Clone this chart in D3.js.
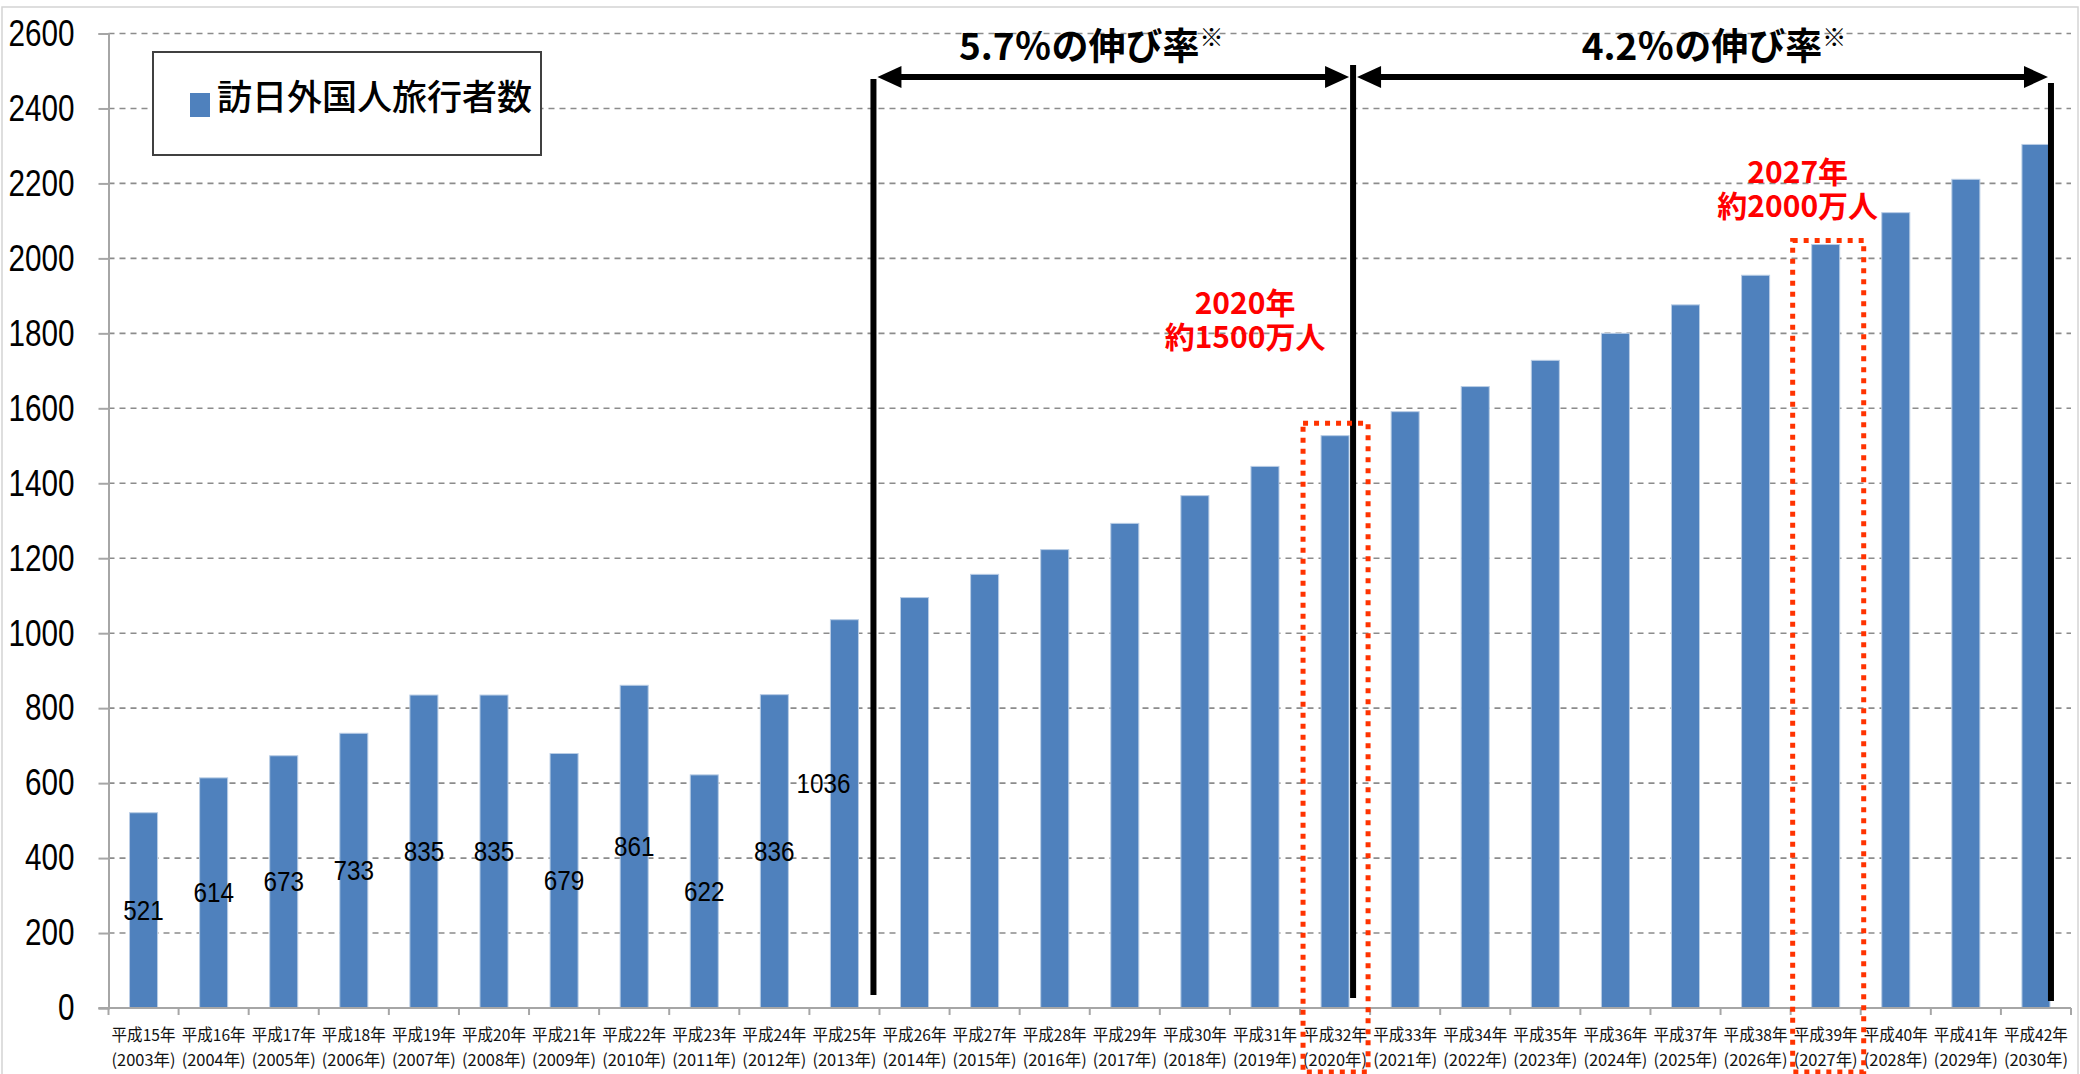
<!DOCTYPE html>
<html lang="ja">
<head>
<meta charset="utf-8">
<title>訪日外国人旅行者数</title>
<script src="https://cdn.jsdelivr.net/npm/d3@7"></script>
<style>
  html, body { margin: 0; padding: 0; background: #ffffff; }
  svg { display: block; }
  .num { font-family: "Liberation Sans", Arial, sans-serif; }
  .jp { font-family: "Noto Sans CJK JP", "Noto Sans", sans-serif; }
</style>
</head>
<body>
<svg id="chart" width="2080" height="1074"></svg>
<script>
// Fiscal-era and western year labels for each bar
const eraLabels = [
  "平成15年", "平成16年", "平成17年", "平成18年", "平成19年", "平成20年", "平成21年",
  "平成22年", "平成23年", "平成24年", "平成25年", "平成26年", "平成27年", "平成28年",
  "平成29年", "平成30年", "平成31年", "平成32年", "平成33年", "平成34年", "平成35年",
  "平成36年", "平成37年", "平成38年", "平成39年", "平成40年", "平成41年", "平成42年"
];
const years = [
  "2003", "2004", "2005", "2006", "2007", "2008", "2009", "2010", "2011", "2012",
  "2013", "2014", "2015", "2016", "2017", "2018", "2019", "2020", "2021", "2022",
  "2023", "2024", "2025", "2026", "2027", "2028", "2029", "2030"
];
// Visitors (10,000 persons): actual 2003-2013, projected 2014-2030
const visitors = [
  521, 614, 673, 733, 835, 835, 679, 861, 622, 836,
  1036, 1095, 1157, 1223, 1293, 1367, 1445, 1527, 1591, 1658,
  1728, 1800, 1876, 1955, 2037, 2122, 2211, 2304
];
// Years whose bars carry a value label
const labelledYears = ["2003", "2004", "2005", "2006", "2007", "2008", "2009", "2010", "2011", "2012", "2013"];
const yTicks = [0, 200, 400, 600, 800, 1000, 1200, 1400, 1600, 1800, 2000, 2200, 2400, 2600];
const legendLabel = "訪日外国人旅行者数";
const growthLabels = ["5.7％の伸び率", "4.2％の伸び率"];
const callouts = [
  { year: "2020", lines: ["2020年", "約1500万人"] },
  { year: "2027", lines: ["2027年", "約2000万人"] }
];

const svg = d3.select("#chart");
const W = 2080, H = 1074;
const plot = { left: 108.5, right: 2071, top: 33.5, bottom: 1008 };

const x = d3.scaleBand()
  .domain(years)
  .range([plot.left, plot.right])
  .paddingInner(0.6)
  .paddingOuter(0.3);
const y = d3.scaleLinear().domain([0, 2600]).range([plot.bottom, plot.top]);
const bw = x.bandwidth();
const step = x.step();

// Outer frame
svg.append("rect")
  .attr("x", 2).attr("y", 7).attr("width", W - 4).attr("height", H + 20)
  .attr("fill", "none").attr("stroke", "#d4d4d4").attr("stroke-width", 1.5);

// Horizontal gridlines
svg.append("g")
  .selectAll("line")
  .data(yTicks.filter(d => d > 0))
  .join("line")
  .attr("x1", plot.left).attr("x2", plot.right)
  .attr("y1", d => y(d)).attr("y2", d => y(d))
  .attr("stroke", "#8c8c8c").attr("stroke-width", 1.6)
  .attr("stroke-dasharray", "6,5");

// Y axis (condensed numerals)
const yAxis = svg.append("g")
  .attr("transform", `translate(${plot.left},0)`)
  .call(d3.axisLeft(y).tickValues(yTicks).tickSize(10).tickPadding(24).tickFormat(d3.format("d")));
yAxis.select(".domain").attr("stroke", "#a6a6a6").attr("stroke-width", 2);
yAxis.selectAll(".tick line").attr("stroke", "#a6a6a6").attr("stroke-width", 2);
yAxis.selectAll(".tick text")
  .attr("class", "num")
  .attr("font-size", 37)
  .attr("fill", "#000")
  .attr("textLength", d => String(d).length * 16.5)
  .attr("lengthAdjust", "spacingAndGlyphs");

// Bars
svg.append("g")
  .selectAll("rect")
  .data(years)
  .join("rect")
  .attr("x", d => x(d))
  .attr("width", bw)
  .attr("y", (d, i) => y(visitors[i]))
  .attr("height", (d, i) => y(0) - y(visitors[i]))
  .attr("fill", "#4f81bd")
  .attr("stroke", "#b9cde5")
  .attr("stroke-width", 1);

// X axis: baseline and category boundary ticks
const xAxisG = svg.append("g");
xAxisG.append("line")
  .attr("x1", plot.left - 10).attr("x2", plot.right)
  .attr("y1", plot.bottom).attr("y2", plot.bottom)
  .attr("stroke", "#a6a6a6").attr("stroke-width", 2);
const boundaries = d3.range(years.length + 1).map(i => plot.left + i * step);
xAxisG.selectAll("line.tick")
  .data(boundaries)
  .join("line")
  .attr("class", "tick")
  .attr("x1", d => d).attr("x2", d => d)
  .attr("y1", plot.bottom).attr("y2", plot.bottom + 7)
  .attr("stroke", "#a6a6a6").attr("stroke-width", 2);

// Two-line category labels
const catLabels = svg.append("g").attr("class", "jp").attr("font-size", 16.5).attr("fill", "#111");
catLabels.selectAll("text.era")
  .data(years)
  .join("text")
  .attr("class", "era")
  .attr("x", d => x(d) + bw / 2)
  .attr("y", 1041)
  .attr("text-anchor", "middle")
  .attr("textLength", 64)
  .attr("lengthAdjust", "spacingAndGlyphs")
  .text((d, i) => eraLabels[i]);
catLabels.selectAll("text.yr")
  .data(years)
  .join("text")
  .attr("class", "yr")
  .attr("x", d => x(d) + bw / 2)
  .attr("y", 1066)
  .attr("text-anchor", "middle")
  .attr("textLength", 64)
  .attr("lengthAdjust", "spacingAndGlyphs")
  .text(d => `(${d}年)`);

// Value labels, centred inside the bar; the 2013 label sits beside its bar
svg.append("g")
  .selectAll("text")
  .data(labelledYears)
  .join("text")
  .attr("class", "num")
  .attr("font-size", 28)
  .attr("fill", "#000")
  .attr("text-anchor", "middle")
  .attr("dominant-baseline", "central")
  .attr("x", d => x(d) + bw / 2 - (d === "2013" ? 21 : 0))
  .attr("y", d => {
    const v = visitors[years.indexOf(d)];
    return d === "2013" ? y(600) : y(v / 2);
  })
  .attr("textLength", d => String(visitors[years.indexOf(d)]).length * 13.5)
  .attr("lengthAdjust", "spacingAndGlyphs")
  .text(d => visitors[years.indexOf(d)]);

// Legend
const legend = svg.append("g");
legend.append("rect")
  .attr("x", 153).attr("y", 52).attr("width", 388).attr("height", 103)
  .attr("fill", "#fff").attr("stroke", "#404040").attr("stroke-width", 2);
legend.append("rect")
  .attr("x", 190).attr("y", 93).attr("width", 20).attr("height", 24)
  .attr("fill", "#4f81bd");
legend.append("text")
  .attr("class", "jp")
  .attr("x", 217).attr("y", 110)
  .attr("font-size", 35).attr("font-weight", 500)
  .attr("fill", "#000")
  .text(legendLabel);

// Growth-rate brackets
const lineL = x("2013") + bw + 15;
const lineM = x("2020") + bw + 4;
const lineR = x("2030") + bw + 1;
const arrowY = 77;
const ann = svg.append("g");
const vline = (xx, y1, y2) => ann.append("line")
  .attr("x1", xx).attr("x2", xx).attr("y1", y1).attr("y2", y2)
  .attr("stroke", "#000").attr("stroke-width", 6);
vline(lineL, 79, 995);
vline(lineM, 65, 998);
vline(lineR, 83, 1001);

const doubleArrow = (x1, x2) => {
  const head = 24, half = 11;
  ann.append("line")
    .attr("x1", x1 + head - 2).attr("x2", x2 - head + 2)
    .attr("y1", arrowY).attr("y2", arrowY)
    .attr("stroke", "#000").attr("stroke-width", 6);
  ann.append("path")
    .attr("d", `M${x1},${arrowY} L${x1 + head},${arrowY - half} L${x1 + head},${arrowY + half} Z`)
    .attr("fill", "#000");
  ann.append("path")
    .attr("d", `M${x2},${arrowY} L${x2 - head},${arrowY - half} L${x2 - head},${arrowY + half} Z`)
    .attr("fill", "#000");
};
doubleArrow(lineL + 4, lineM - 4);
doubleArrow(lineM + 4, lineR - 3);

const growthText = (label, cx) => {
  const t = ann.append("text")
    .attr("class", "jp")
    .attr("x", cx).attr("y", 60)
    .attr("text-anchor", "middle")
    .attr("font-size", 37).attr("font-weight", 700)
    .attr("fill", "#000");
  t.append("tspan").text(label);
  t.append("tspan").attr("font-size", 24).attr("dy", -14).text("※");
};
growthText(growthLabels[0], (lineL + lineM) / 2 - 22);
growthText(growthLabels[1], (lineM + lineR) / 2 + 12);

// Highlighted target years
const hl = svg.append("g");
const boxes = [
  { year: "2020", top: 1560, padL: 18, padR: 19 },
  { year: "2027", top: 2048, padL: 19, padR: 24 }
];
hl.selectAll("rect")
  .data(boxes)
  .join("rect")
  .attr("x", d => x(d.year) - d.padL)
  .attr("y", d => y(d.top))
  .attr("width", d => bw + d.padL + d.padR)
  .attr("height", d => 1072 - y(d.top))
  .attr("fill", "none")
  .attr("stroke", "#ff3300")
  .attr("stroke-width", 5)
  .attr("stroke-dasharray", "5,6");

// Red two-line call-outs above the highlighted years
const calloutPos = { "2020": { dx: -90, y1: 314 }, "2027": { dx: -28, y1: 183 } };
callouts.forEach(c => {
  const p = calloutPos[c.year];
  const cx = x(c.year) + bw / 2 + p.dx;
  const t = svg.append("text")
    .attr("class", "jp")
    .attr("x", cx).attr("y", p.y1)
    .attr("text-anchor", "middle")
    .attr("font-size", 30).attr("font-weight", 700)
    .attr("fill", "#ff0000");
  c.lines.forEach((line, i) => {
    t.append("tspan")
      .attr("x", cx)
      .attr("dy", i === 0 ? 0 : 34)
      .text(line);
  });
});
</script>
</body>
</html>
